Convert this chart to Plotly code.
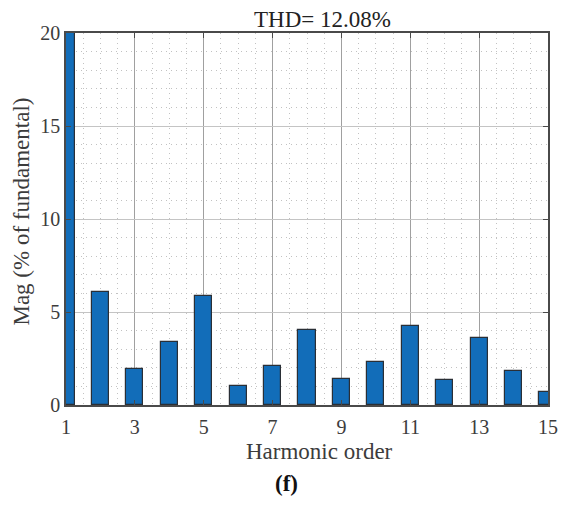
import plotly.graph_objects as go

harmonics = list(range(1, 16))
magnitudes = [100, 6.05, 1.94, 3.40, 5.88, 1.02, 2.10, 4.03, 1.40, 2.32, 4.25, 1.33, 3.60, 1.83, 0.70]
x_ticks = [1, 3, 5, 7, 9, 11, 13, 15]
y_ticks = [0, 5, 10, 15, 20]
title_text = "THD= 12.08%"
x_label = "Harmonic order"
y_label = "Mag (% of fundamental)"
panel_label = "<b>(f)</b>"

FONT = "Liberation Serif"

fig = go.Figure()
fig.add_trace(go.Bar(
    x=harmonics, y=magnitudes, width=0.5,
    marker=dict(color="#126db9", line=dict(color="#2a2f36", width=1.2)),
    cliponaxis=True,
))

axis_common = dict(
    showline=True, mirror="ticks", linecolor="#4a4a4a", linewidth=1.5,
    ticks="inside", ticklen=5, tickcolor="#4a4a4a", tickwidth=1,
    showgrid=True, gridwidth=1,
    tickfont=dict(family=FONT, size=20, color="#3c3c3c"),
    zeroline=False, layer="above traces",
)

minor_grid = dict(showgrid=True, gridcolor="#c2c2c2", griddash="1px,4px", gridwidth=1, ticks="")

fig.update_xaxes(
    range=[1, 15], tickvals=x_ticks, gridcolor="#a0a0a0", ticklabelstandoff=3,
    minor=dict(dtick=0.5, tick0=1, **minor_grid),
    **axis_common,
)
fig.update_yaxes(
    range=[0, 20], tickvals=y_ticks, gridcolor="#c4c4c4", ticklabelstandoff=0,
    minor=dict(dtick=1, tick0=0, **minor_grid),
    **axis_common,
)

fig.update_layout(
    width=570, height=506,
    margin=dict(l=66, r=16, t=33, b=101),
    plot_bgcolor="white", paper_bgcolor="white",
    showlegend=False, bargap=0,
    font=dict(family=FONT),
    annotations=[
        dict(text=title_text, xref="paper", yref="paper", x=0.532, y=1.0, yshift=14,
             xanchor="center", yanchor="middle", showarrow=False,
             font=dict(family=FONT, size=23, color="#222222")),
        dict(text=x_label, xref="paper", yref="paper", x=0.525, y=0, yshift=-46,
             xanchor="center", yanchor="middle", showarrow=False,
             font=dict(family=FONT, size=23, color="#3c3c3c")),
        dict(text=y_label, xref="paper", yref="paper", x=0, xshift=-44, y=0.52,
             xanchor="center", yanchor="middle", textangle=-90, showarrow=False,
             font=dict(family=FONT, size=23, color="#3c3c3c")),
        dict(text=panel_label, xref="paper", yref="paper", x=0.457, y=0, yshift=-78,
             xanchor="center", yanchor="middle", showarrow=False,
             font=dict(family=FONT, size=23, color="#111111")),
    ],
)

fig.write_html("out.html")
